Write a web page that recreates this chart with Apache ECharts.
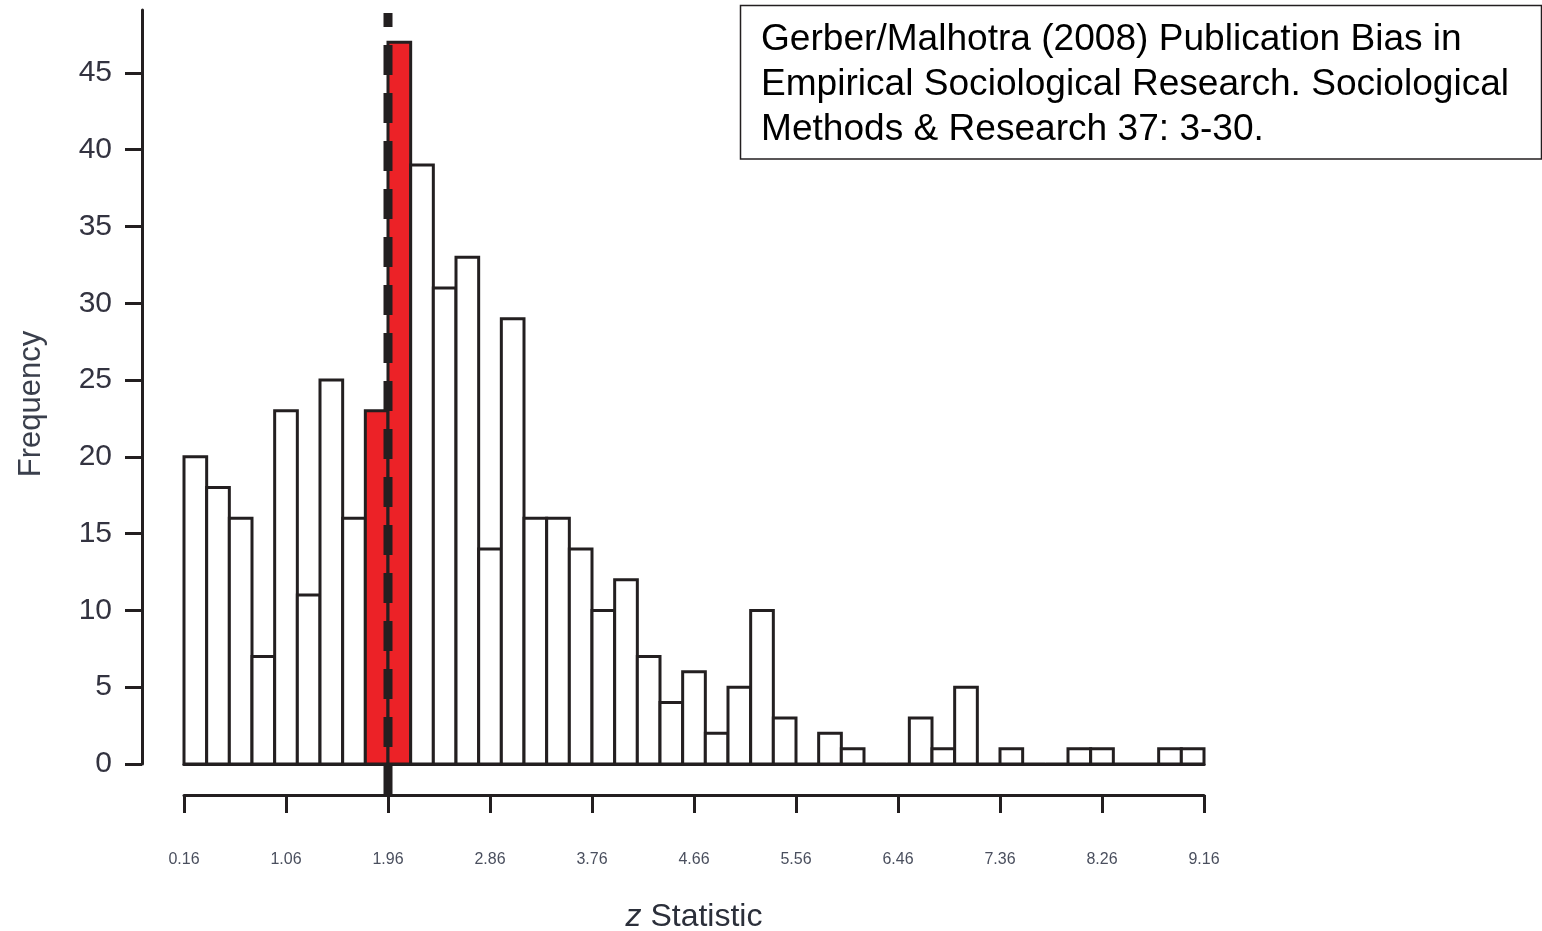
<!DOCTYPE html>
<html><head><meta charset="utf-8">
<script src="https://cdn.jsdelivr.net/npm/echarts@6/dist/echarts.min.js"></script>
<style>html,body{margin:0;padding:0;background:#fff}#c{width:1542px;height:931px}</style>
</head><body><div id="c"></div>
<script>
// ---- data ----
const binStarts = [0.16,0.36,0.56,0.76,0.96,1.16,1.36,1.56,1.76,1.96,
                   2.16,2.36,2.56,2.76,2.96,3.16,3.36,3.56,3.76,3.96,
                   4.16,4.36,4.56,4.76,4.96,5.16,5.36,5.56,5.76,5.96,
                   6.16,6.36,6.56,6.76,6.96,7.16,7.36,7.56,7.76,7.96,
                   8.16,8.36,8.56,8.76,8.96];
const binWidth = 0.2;
const frequencies = [20,18,16,7,23,11,25,16,23,47,
                     39,31,33,14,29,16,16,14,10,12,
                     7,4,6,2,5,10,3,0,2,1,
                     0,0,3,1,5,0,1,0,0,1,
                     1,0,0,1,1];
const highlightedBins = [1.76, 1.96];
const criticalZ = 1.96;
const xTickValues = [0.16,1.06,1.96,2.86,3.76,4.66,5.56,6.46,7.36,8.26,9.16];
const yTickValues = [0,5,10,15,20,25,30,35,40,45];
const noteLines = ['Gerber/Malhotra (2008) Publication Bias in',
                   'Empirical Sociological Research. Sociological',
                   'Methods & Research 37: 3-30.'];

// ---- chart ----
const ink = '#231f20';
const chart = echarts.init(document.getElementById('c'), null, {renderer: 'canvas'});
const option = {
  animation: false,
  backgroundColor: '#fff',
  textStyle: {fontFamily: 'Liberation Sans, Arial, Helvetica, sans-serif'},
  title: {
    text: noteLines.join('\n'),
    left: 761, top: 17, padding: 0,
    textStyle: {fontSize: 37.1, fontWeight: 'normal', color: '#000', lineHeight: 45,
                fontFamily: 'Liberation Sans, Arial, sans-serif'}
  },
  graphic: [{
    type: 'rect', z: 10,
    shape: {x: 740.5, y: 5.5, width: 801, height: 153.5},
    style: {fill: 'none', stroke: ink, lineWidth: 1.5}
  }],
  grid: {left: 184, right: 338, top: 10, bottom: 167, outerBoundsMode: 'none', containLabel: false},
  xAxis: [{
    type: 'value', min: 0.16, max: 9.16,
    axisLine: {show: true, onZero: false, lineStyle: {color: ink, width: 3}},
    axisTick: {show: false}, axisLabel: {show: false}, splitLine: {show: false}
  }, {
    type: 'value', min: 0.16, max: 9.16, position: 'bottom', offset: 31,
    axisLine: {show: true, onZero: false, lineStyle: {color: ink, width: 3}},
    axisTick: {show: true, customValues: xTickValues, length: 18, lineStyle: {color: ink, width: 3}},
    axisLabel: {show: true, customValues: xTickValues, formatter: v => v.toFixed(2),
                fontSize: 16, color: '#4a4f5e', margin: 57},
    splitLine: {show: false},
    name: '{i|z} Statistic', nameLocation: 'middle', nameGap: 106,
    nameTextStyle: {fontSize: 32, color: '#2b2f3a',
      rich: {i: {fontStyle: 'italic', fontSize: 32, color: '#2b2f3a'}}}
  }],
  yAxis: [{
    type: 'value', min: 0, max: 49.1, position: 'left', offset: 42,
    axisLine: {show: true, lineStyle: {color: ink, width: 3}},
    axisTick: {show: true, customValues: yTickValues, length: 17, lineStyle: {color: ink, width: 3}},
    axisLabel: {show: true, customValues: yTickValues, fontSize: 30, color: '#333340', margin: 30},
    splitLine: {show: false},
    name: 'Frequency', nameLocation: 'middle', nameGap: 95, nameRotate: 90,
    nameTextStyle: {fontSize: 31, color: '#3a3f4c', padding: [0, 34, 0, 0]}
  }],
  series: [{
    type: 'custom',
    xAxisIndex: 0, yAxisIndex: 0,
    data: binStarts.map((s, i) => [s, frequencies[i]]),
    encode: {x: 0, y: 1},
    renderItem: (params, api) => {
      const x0 = api.value(0), y = api.value(1);
      const p0 = api.coord([x0, y]);
      const p1 = api.coord([x0 + binWidth, 0]);
      const hot = highlightedBins.some(h => Math.abs(h - x0) < 1e-9);
      return {
        type: 'rect',
        shape: {x: p0[0], y: p0[1], width: p1[0] - p0[0], height: p1[1] - p0[1]},
        style: {fill: hot ? '#ec2227' : '#fff', stroke: ink, lineWidth: 3}
      };
    },
    z: 2
  }, {
    type: 'line',
    xAxisIndex: 0, yAxisIndex: 0,
    clip: false,
    symbol: 'none',
    data: [[criticalZ, -2.02], [criticalZ, 48.9]],
    lineStyle: {color: ink, width: 9, type: [30, 18], cap: 'butt'},
    z: 5
  }]
};
chart.setOption(option);
</script>
</body></html>
